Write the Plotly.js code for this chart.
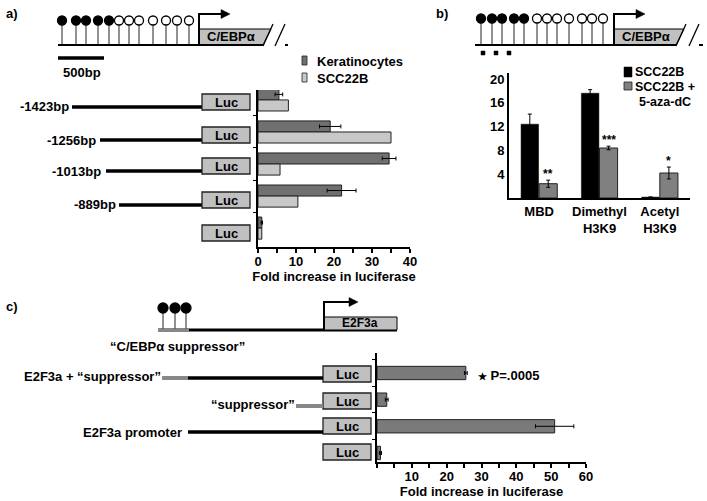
<!DOCTYPE html>
<html>
<head>
<meta charset="utf-8">
<script src="https://cdn.plot.ly/plotly-3.0.1.min.js"></script>
<style>
  html, body { margin: 0; padding: 0; background: #fff; }
  #fig { width: 707px; height: 501px; }
</style>
</head>
<body>
<div id="fig"></div>
<script>
// panel a: promoter deletion constructs
const aConstructs = ["-1423bp", "-1256bp", "-1013bp", "-889bp", "Luc only"];
const aKerat = [5.5, 19, 34.5, 22, 1];
const aKeratErr = [1, 2.8, 1.8, 3.8, 0.2];
const aScc = [8, 35, 5.8, 10.5, 1];

// panel b: ChIP
const bTargets = ["MBD", "Dimethyl<br>H3K9", "Acetyl<br>H3K9"];
const bScc = [12.4, 17.6, 0.15];
const bSccErr = [1.7, 0.6, 0];
const bAza = [2.4, 8.4, 4.2];
const bAzaErr = [0.6, 0.3, 1.0];
const bStars = ["**", "***", "*"];

// panel c: E2F3a constructs
const cConstructs = ["E2F3a + suppressor", "suppressor", "E2F3a promoter", "Luc only"];
const cFold = [25.5, 2.8, 51, 1];
const cErr = [0.4, 0.4, 5.5, 0.3];

const W = 707, H = 501;
const px = x => x / W;
const py = y => 1 - y / H;

const shapes = [];
const annotations = [];

function seg(x0, y0, x1, y1, color, w) {
    shapes.push({type: "line", xref: "paper", yref: "paper",
        x0: px(x0), y0: py(y0), x1: px(x1), y1: py(y1),
        line: {color: color, width: w}});
}
function box(x0, y0, x1, y1, fill, lc, lw) {
    shapes.push({type: "rect", xref: "paper", yref: "paper",
        x0: px(x0), y0: py(y0), x1: px(x1), y1: py(y1),
        fillcolor: fill, line: {color: lc, width: lw}});
}
function dot(cx, cy, r, filled) {
    shapes.push({type: "circle", xref: "paper", yref: "paper",
        x0: px(cx - r), y0: py(cy - r), x1: px(cx + r), y1: py(cy + r),
        fillcolor: filled ? "#000" : "#fff", line: {color: "#000", width: 1.3}});
}
function poly(pts, fill, lc, lw) {
    const d = pts.map((p, i) => (i ? "L" : "M") + px(p[0]) + "," + py(p[1])).join(" ") + " Z";
    shapes.push({type: "path", xref: "paper", yref: "paper", path: d,
        fillcolor: fill, line: {color: lc || fill, width: lw || 0.5}});
}
function txt(x, y, text, size, anchor) {
    annotations.push({xref: "paper", yref: "paper", x: px(x), y: py(y), text: text,
        showarrow: false, xanchor: anchor || "center", yanchor: "middle", borderpad: 0,
        font: {size: size || 13, color: "#000"}});
}
function luc(x0, yc) {
    box(x0, yc - 8, x0 + 48, yc + 8, "#c0c0c0", "#222", 1.3);
    txt(x0 + 24, yc, "Luc", 13);
}
function arrow(x, yBase, yTop, xEnd) {
    shapes.push({type: "path", xref: "paper", yref: "paper",
        path: "M" + px(x) + "," + py(yBase) + " L" + px(x) + "," + py(yTop) + " L" + px(xEnd - 8) + "," + py(yTop),
        line: {color: "#000", width: 2}});
    poly([[xEnd - 9, yTop - 4.5], [xEnd, yTop], [xEnd - 9, yTop + 4.5]], "#000");
}
function gene(xBox, xSlant, yB, yT, xs1, xEnd, xStart, yDot, filled, open) {
    filled.concat(open).forEach(x => seg(x, yDot, x, yB, "#555", 1.3));
    poly([[xBox, yB], [xBox, yT], [xSlant + 8, yT], [xSlant, yB]], "#c0c0c0", "#000", 1);
    seg(xStart, yB, xSlant, yB, "#000", 2);
    seg(xs1 + 10, yB, xEnd, yB, "#000", 2);
    seg(xSlant, yB + 1, xSlant + 10, yT - 5, "#000", 1.3);
    seg(xs1, yB + 1, xs1 + 10, yT - 5, "#000", 1.3);
    filled.forEach(x => dot(x, yDot, 4.5, true));
    open.forEach(x => dot(x, yDot, 4.5, false));
    arrow(xBox, yB, 14, xBox + 31);
    txt(xBox + 32, 37, "C/EBPα", 13);
}

// ---- panel a diagram
txt(12, 14, "a)", 13);
gene(199, 263, 45, 29, 275, 288, 58, 20.5,
     [62, 76, 86, 98, 109], [119, 129, 139, 153, 166, 177, 189]);
seg(58, 58, 104, 58, "#000", 3.5);
txt(82, 73, "500bp", 13);

const aRows = [
    {y: 102, x0: 72, label: 70},
    {y: 135, x0: 100, label: 97},
    {y: 166, x0: 106, label: 102},
    {y: 200, x0: 119, label: 117},
    {y: 233, x0: null}
];
aRows.forEach((r, i) => {
    if (r.x0 !== null) {
        seg(r.x0, r.y + 5, 202, r.y + 5, "#000", 3.5);
        txt(r.label, r.y + 5, aConstructs[i], 13, "right");
    }
    luc(202, r.y);
});

// legend a
box(302, 56, 307, 65, "#707070", "#222", 0.8);
txt(316, 61, "Keratinocytes", 13, "left");
box(302, 73, 307, 82, "#c8c8c8", "#222", 0.8);
txt(316, 78, "SCC22B", 13, "left");

// ---- panel b diagram
txt(442, 14, "b)", 13);
gene(614, 676, 45, 29, 689, 703, 475, 18.5,
     [481, 492, 502, 514, 524], [537, 547, 557, 569, 582, 592, 603]);
[483, 496, 509].forEach(x => box(x - 2, 51, x + 2, 55, "#000", "#000", 0.5));

// legend b
box(624, 67, 632, 77, "#000", "#000", 0.5);
txt(634, 71.5, "SCC22B", 12.5, "left");
box(624, 82, 632, 90, "#808080", "#222", 0.8);
txt(634, 86.5, "SCC22B +", 12.5, "left");
txt(638, 101.5, "5-aza-dC", 12.5, "left");

// ---- panel c diagram
txt(12, 306, "c)", 13);
seg(189, 330, 397, 330, "#000", 3);
seg(158, 330, 189, 330, "#888", 4);
[163, 175, 186].forEach(x => seg(x, 308, x, 329, "#555", 1.3));
[163, 175, 186].forEach(x => dot(x, 308, 5, true));
box(324, 317, 397, 330, "#c0c0c0", "#000", 1);
arrow(324, 330, 302, 358);
txt(360, 323, "E2F3a", 12);
txt(177, 346, "“C/EBPα suppressor”", 13);

luc(323, 374);
seg(162, 378, 188, 378, "#888", 4);
seg(188, 378, 323, 378, "#000", 3.5);
txt(162, 376, "E2F3a + “suppressor”", 13, "right");
luc(323, 401);
seg(296, 406, 323, 406, "#888", 4);
txt(296, 404, "“suppressor”", 13, "right");
luc(323, 426);
seg(188, 432, 323, 432, "#000", 3.5);
txt(183, 432, "E2F3a promoter", 13, "right");
luc(323, 452);
txt(477, 375, "<span style='font-size:10px'>★</span> P=.0005", 13, "left");

// stars over panel b bars
bAza.forEach((v, i) => {
    annotations.push({xref: "x2", yref: "y2", x: bTargets[i], y: v + bAzaErr[i],
        xshift: 9, yshift: 6, text: bStars[i], showarrow: false,
        xanchor: "center", yanchor: "middle", font: {size: 12, color: "#000"}});
});

const errStyle = {type: "data", color: "#000", thickness: 1, width: 2};

const plotData = [
    {type: "bar", orientation: "h", y: aConstructs, x: aKerat, name: "Keratinocytes",
     xaxis: "x", yaxis: "y", marker: {color: "#707070", line: {color: "#222", width: 1}},
     error_x: Object.assign({array: aKeratErr}, errStyle)},
    {type: "bar", orientation: "h", y: aConstructs, x: aScc, name: "SCC22B",
     xaxis: "x", yaxis: "y", marker: {color: "#c8c8c8", line: {color: "#222", width: 1}}},
    {type: "bar", x: bTargets, y: bScc, name: "SCC22B", xaxis: "x2", yaxis: "y2",
     offset: -0.3, width: 0.29, marker: {color: "#000", line: {color: "#000", width: 0.5}},
     error_y: Object.assign({array: bSccErr}, errStyle)},
    {type: "bar", x: bTargets, y: bAza, name: "SCC22B + 5-aza-dC", xaxis: "x2", yaxis: "y2",
     offset: 0, width: 0.3, marker: {color: "#808080", line: {color: "#222", width: 1}},
     error_y: Object.assign({array: bAzaErr}, errStyle)},
    {type: "bar", orientation: "h", y: cConstructs, x: cFold, name: "E2F3a",
     xaxis: "x3", yaxis: "y3", width: 0.5,
     marker: {color: "#7a7a7a", line: {color: "#222", width: 1}},
     error_x: Object.assign({array: cErr}, errStyle)}
];

const tickFont = {size: 13, color: "#000"};
const layout = {
    width: W, height: H,
    margin: {l: 0, r: 0, t: 0, b: 0, pad: 0},
    paper_bgcolor: "#fff", plot_bgcolor: "rgba(0,0,0,0)",
    font: {family: "Liberation Sans, Arial, sans-serif", weight: "bold", color: "#000", size: 13},
    showlegend: false,
    barmode: "group", bargap: 0.31, bargroupgap: 0,
    xaxis: {domain: [px(258), px(410)], anchor: "y", range: [0, 40], autorange: false,
        showline: true, linecolor: "#000", linewidth: 2, showgrid: false, zeroline: false,
        ticks: "outside", ticklen: 4, tickwidth: 1.5, tickcolor: "#000", dtick: 10,
        ticklabelstandoff: -3,
        minor: {dtick: 5, ticks: "outside", ticklen: 4, tickwidth: 1.5, tickcolor: "#000", showgrid: false},
        tickfont: tickFont,
        title: {text: "Fold increase in luciferase", font: {size: 13}, standoff: 0}},
    yaxis: {domain: [py(247), py(90)], anchor: "x", type: "category",
        range: [4.59, -0.31], autorange: false,
        showline: true, linecolor: "#000", linewidth: 2, showgrid: false, zeroline: false,
        showticklabels: false, ticks: "outside", tickson: "boundaries", ticklen: 3, tickcolor: "#000"},
    xaxis2: {domain: [px(509), px(690)], anchor: "y2", type: "category",
        showline: true, linecolor: "#000", linewidth: 2, showgrid: false, zeroline: false,
        ticks: "", tickfont: tickFont},
    yaxis2: {domain: [py(198), py(73)], anchor: "x2", range: [0, 21], autorange: false,
        showline: true, linecolor: "#000", linewidth: 2, showgrid: false, zeroline: false,
        ticks: "", tickvals: [4, 8, 12, 16, 20], tickfont: tickFont},
    xaxis3: {domain: [px(377), px(586)], anchor: "y3", range: [0, 60], autorange: false,
        showline: true, linecolor: "#000", linewidth: 2, showgrid: false, zeroline: false,
        ticks: "outside", ticklen: 4, tickwidth: 1.5, tickcolor: "#000",
        ticklabelstandoff: -3,
        tickvals: [10, 20, 30, 40, 50, 60],
        minor: {dtick: 5, ticks: "outside", ticklen: 4, tickwidth: 1.5, tickcolor: "#000", showgrid: false},
        tickfont: tickFont,
        title: {text: "Fold increase in luciferase", font: {size: 13}, standoff: 0}},
    yaxis3: {domain: [py(462), py(353)], anchor: "x3", type: "category",
        range: [3.34, -0.75], autorange: false,
        showline: true, linecolor: "#000", linewidth: 2, showgrid: false, zeroline: false,
        showticklabels: false, ticks: "outside", tickson: "boundaries", ticklen: 3, tickcolor: "#000"},
    shapes: shapes,
    annotations: annotations
};

Plotly.newPlot("fig", plotData, layout, {displayModeBar: false, responsive: false});
</script>
</body>
</html>
